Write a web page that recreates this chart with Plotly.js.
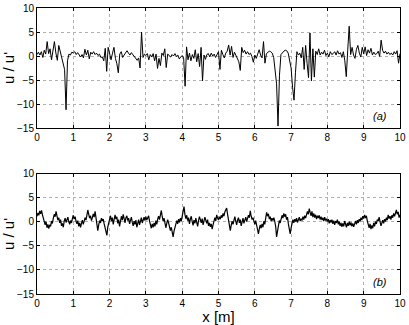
<!DOCTYPE html>
<html>
<head>
<meta charset="utf-8">
<script src="https://cdn.plot.ly/plotly-3.0.1.min.js"></script>
<style>
  html, body { margin: 0; padding: 0; background: #fff; }
  #chart { width: 409px; height: 325px; }
</style>
</head>
<body>
<div id="chart"></div>
<script>
// (a) intermittent signal, sampled every 0.04 m
const stepA = 0.04;
const uA = [
  0.3, 0.8, 0.2, 0.9, -0.3, 1.2, 0.4, 3.0, 0.5, 1.5, -0.8, 1.2, 3.0, 0.6, -0.9, 2.2, 1.0, -0.2, -1.2, -2.8, -11.2, -1.0, 0.4, 0.2, 0.8,
  0.6, 0.9, 0.3, 0.7, 0.1, -0.2, 0.3, -0.4, 1.4, 0.2, 1.2, -0.6, 0.8, 0.4, 0.9, 0.3, 0.6, 0.1, 0.4, -0.3, -0.2, -1.0, 1.6, -3.2, 1.8,
  0.2, -0.8, 0.6, 1.8, -0.5, -1.6, -3.5, 0.4, 0.9, -0.3, 0.2, 0.8, 1.1, 0.6, 0.2, 0.7, 0.3, -0.1, -0.6, -0.9, -0.4, -2.5, 5.0, -0.3, 0.4,
  0.1, 0.5, -0.8, 0.3, -0.2, 0.5, -1.0, 0.4, -2.6, -0.5, -2.0, 0.6, 0.1, 1.5, -2.4, 0.4, 0.1, -0.2, 0.3, 0.0, 0.5, -0.1, 0.2, -0.6, -0.2,
  0.1, -0.4, -6.3, 1.9, -0.8, 0.6, -1.0, 0.3, -0.5, 1.3, -1.2, 0.5, -2.2, 1.8, -5.2, 0.2, -0.7, 0.3, 0.5, -0.2, 0.6, 0.0, 0.4, -0.3, 0.2,
  0.9, -2.8, 1.2, 0.3, -0.4, 0.6, 1.0, 2.3, 0.2, 2.0, -0.3, 0.8, 0.2, -0.5, -1.2, -3.0, 1.8, 0.7, 1.2, 0.4, 0.9, 0.3, 0.6, -0.1, -1.3,
  0.2, -0.5, 0.4, 1.3, 0.2, -0.4, 3.0, -1.5, 0.5, 0.8, 1.0, 0.9, 0.6, -0.3, -2.5, -5.8, -14.6, -4.0, 0.3, 0.8, 1.0, 1.2, 1.1, 0.6, -0.8,
  -2.5, -6.5, -9.2, -3.5, 0.9, 0.2, 0.6, -0.4, 1.8, -2.8, 2.2, -1.5, -4.5, 4.8, -5.2, 1.5, -4.4, 1.0, 0.3, 1.5, 0.2, 0.8, 0.4, 1.2, 0.1,
  0.6, -0.2, 0.9, 0.3, 0.5, 0.9, 0.2, 1.1, 0.4, 0.7, -0.3, 0.9, -1.0, -4.3, 1.2, 6.2, 0.3, 1.8, 0.2, -0.5, 1.4, 2.2, 0.6, -0.2, 1.8,
  0.4, 1.9, 0.1, 1.3, 0.6, 1.6, 0.2, 0.8, 0.3, 0.5, 1.0, -0.1, 3.3, 1.2, 0.6, 1.0, 0.4, 0.8, 0.3, 0.6, 0.2, 0.9, 0.4, 1.1, -1.5,
  0.5
];

// (b) gaussian-like signal, sampled every 0.025 m
const stepB = 0.025;
const uB = [
  1.2, 1.9, 1.4, 2.3, 1.7, 2.4, 1.5, 0.9, 0.2, -0.6, 0.1, -1.2, -0.5, -1.4, -0.6, -0.9, 0.2, -0.3, 0.8, 1.6,
  1.1, 2.2, 1.3, 0.4, 0.9, -0.2, 0.5, -0.8, -0.3, -1.1, 0.2, 0.8, -0.1, 0.6, 1.0, 0.1, -0.5, 0.3, -0.2, 0.7,
  1.4, 0.6, 1.1, 0.2, -0.4, 0.3, -0.9, -0.2, -1.1, -0.3, 0.4, -0.5, 0.2, 0.9, 0.4, 1.5, 2.5, 1.6, 0.8, 1.3,
  0.3, 0.9, 1.7, 1.0, 2.2, 0.9, -0.4, -1.8, -0.6, 0.3, -0.2, 0.8, 0.2, 0.6, -0.4, -1.2, -2.1, -2.8, -1.0, -0.3,
  0.6, 1.3, 0.2, 0.9, -0.5, 0.4, 1.5, 0.6, 1.1, -0.3, 0.5, -0.9, 0.3, 1.2, 0.4, 1.6, 0.7, -0.2, 0.9, 1.3,
  0.3, 0.8, -0.4, 0.5, 1.0, -0.1, -0.8, 0.2, -0.5, 0.4, -1.1, -0.3, 0.5, -0.6, 0.2, 0.9, -0.2, 0.4, 1.0, 0.3,
  1.1, 0.4, 0.9, 1.3, 0.2, -0.6, -1.3, -0.4, -1.1, -0.2, -0.9, 0.3, -0.5, 0.6, 1.2, 0.5, 1.8, 2.4, 1.1, 0.2,
  0.8, -0.4, -1.2, -0.3, 0.5, -0.2, -1.0, -1.8, -1.1, -2.3, -3.1, -1.9, -1.3, -0.6, 0.3, -0.4, 0.6, -0.1, 0.8, 0.2,
  1.0, 1.9, 3.2, 1.6, 0.7, 1.4, 0.3, 0.9, -0.4, 0.6, 1.2, 0.1, -0.7, 0.4, -0.3, 0.8, 0.2, -0.9, 0.3, 1.1,
  0.5, -0.2, 0.7, -0.6, 0.2, 1.0, 0.4, -0.3, 0.5, -0.8, -0.2, -1.0, -0.4, -1.5, -0.6, 0.3, 0.9, 0.2, 1.5, 0.8,
  0.4, 1.1, 0.6, 1.4, 0.9, 1.8, 1.2, 2.1, 2.5, 2.9, 1.6, 0.4, -0.9, -1.8, -0.7, 0.2, -0.5, 0.7, 1.1, 0.2,
  -0.6, 0.4, 0.9, -0.2, 0.5, -0.8, 0.1, 0.8, -0.3, 0.4, 1.0, 0.1, 0.7, 1.4, 0.9, 2.3, 1.2, 0.5, 0.9, -0.1,
  -0.5, 0.3, -0.8, -1.6, -2.5, -1.4, -0.6, -1.3, -0.4, -1.1, 0.2, -0.5, 0.9, 2.0, 1.2, 1.7, 0.6, 1.1, 0.2, 0.8,
  0.3, 0.9, 0.1, -0.9, -3.1, -1.7, -0.8, 0.3, -0.2, 0.9, 1.4, 0.8, 1.8, 1.1, 1.6, 0.5, 1.0, -0.4, -1.5, -2.5,
  -1.2, -0.3, 0.5, -0.2, 0.6, 0.1, 0.8, -0.1, 0.4, 1.0, 0.2, 0.7, 0.3, 1.1, 0.5, 1.3, 0.8, 1.7, 2.2, 1.6,
  2.8, 2.0, 1.3, 2.2, 1.0, 1.8, 0.9, 1.5, 0.6, 1.3, 0.8, 1.4, 0.5, 1.1, 0.4, 0.9, 0.2, 1.0, 0.3, 0.7,
  0.1, 0.6, -0.3, 0.4, -0.1, 0.5, -0.4, 0.3, -0.6, 0.2, -0.2, 0.5, -0.5, 0.1, -0.8, -0.2, -1.0, -0.3, -0.9, 0.2,
  -0.6, -1.1, -0.2, -0.8, 0.1, -0.7, -0.1, -0.9, -0.3, -1.0, -0.4, 0.2, -0.5, 0.4, -0.2, 0.6, 0.1, 0.9, 0.4, 1.2,
  0.7, 1.5, 0.8, 1.3, 0.2, -0.5, -1.2, -0.4, -1.5, -0.7, -1.3, -0.2, -0.9, 0.1, -0.4, 0.5, 0.2, 1.0, 0.3, -0.8,
  -0.2, 0.4, -0.3, 0.6, 0.1, 0.9, 0.4, 1.5, 0.7, 1.2, 0.5, 1.4, 0.9, 1.8, 1.2, 2.2, 2.5, 1.6, 2.1, 0.9,
  1.5
];

const xTicks = [0, 1, 2, 3, 4, 5, 6, 7, 8, 9, 10];
const yTicks = [-15, -10, -5, 0, 5, 10];

const font = { family: "Liberation Sans, Arial, sans-serif", size: 10, color: "#000" };

const axisCommon = {
  showline: true,
  linecolor: "#000",
  linewidth: 1,
  mirror: "ticks",
  ticks: "inside",
  ticklen: 3,
  tickcolor: "#000",
  showgrid: true,
  gridcolor: "#b0b0b0",
  griddash: "dot",
  gridwidth: 1,
  zeroline: false,
  tickfont: { size: 10, color: "#000" }
};

const traces = [
  {
    x0: 0, dx: stepA, y: uA,
    type: "scatter", mode: "lines",
    line: { color: "#000", width: 1 },
    xaxis: "x", yaxis: "y",
    hoverinfo: "skip"
  },
  {
    x0: 0, dx: stepB, y: uB,
    type: "scatter", mode: "lines",
    line: { color: "#000", width: 1.2 },
    xaxis: "x2", yaxis: "y2",
    hoverinfo: "skip"
  }
];

const layout = {
  width: 409,
  height: 325,
  margin: { l: 37, r: 9, t: 8, b: 31 },
  paper_bgcolor: "#fff",
  plot_bgcolor: "#fff",
  font: font,
  showlegend: false,
  xaxis: Object.assign({}, axisCommon, {
    domain: [0, 1], range: [0, 10], tickvals: xTicks, anchor: "y"
  }),
  yaxis: Object.assign({}, axisCommon, {
    domain: [0.5804, 1], range: [-15, 10], tickvals: yTicks, anchor: "x",
    title: { text: "u / u'", font: { size: 15 }, standoff: 2 }
  }),
  xaxis2: Object.assign({}, axisCommon, {
    domain: [0, 1], range: [0, 10], tickvals: xTicks, anchor: "y2",
    title: { text: "x [m]", font: { size: 15 }, standoff: 4 }
  }),
  yaxis2: Object.assign({}, axisCommon, {
    domain: [0, 0.4196], range: [-15, 10], tickvals: yTicks, anchor: "x2",
    title: { text: "u / u'", font: { size: 15 }, standoff: 2 }
  }),
  annotations: [
    { text: "(a)", x: 9.45, y: -12.6, xref: "x", yref: "y", showarrow: false,
      font: { size: 11, style: "italic" } },
    { text: "(b)", x: 9.45, y: -12.6, xref: "x2", yref: "y2", showarrow: false,
      font: { size: 11, style: "italic" } }
  ]
};

Plotly.newPlot("chart", traces, layout, { staticPlot: true });
</script>
</body>
</html>
